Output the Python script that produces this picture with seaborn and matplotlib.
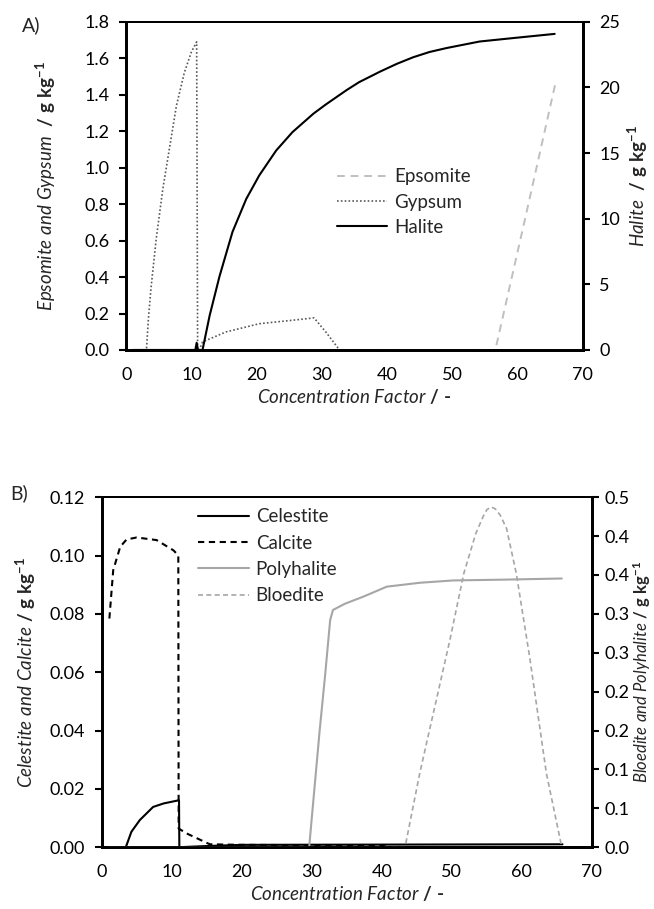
import numpy as np
import pandas as pd
import matplotlib
matplotlib.use('Agg')
import matplotlib.pyplot as plt
import seaborn as sns

# ---- panel A data (concentration factor vs mineral mass, g/kg) ----
epsomite_x = [1, 56.6, 61.1, 65.8]
epsomite_y = [0, 0, 0.71, 1.46]

gypsum_x = [1, 3.1, 3.4, 3.8, 4.6, 5.6, 6.6, 7.7, 8.9, 10.0, 10.8, 10.95, 11.2, 11.7,
            15.3, 20.4, 25.5, 28.8, 30.6, 32.7, 65.8]
gypsum_y = [0, 0, 0.17, 0.34, 0.61, 0.88, 1.10, 1.34, 1.52, 1.635, 1.69, 0, 0, 0.044,
            0.099, 0.144, 0.163, 0.176, 0.099, 0, 0]

halite_x = [1, 10.6, 10.8, 11.0, 11.7, 12.8, 14.3, 16.3, 18.4, 20.4, 23.0, 25.5, 28.7,
            30.6, 33.8, 35.7, 38.9, 41.5, 44.0, 46.5, 49.1, 54.2, 59.3, 65.7]
halite_y = [0, 0, 0.55, 0, 0, 2.64, 5.6, 9.0, 11.5, 13.3, 15.2, 16.6, 18.0,
            18.7, 19.8, 20.4, 21.2, 21.8, 22.3, 22.7, 23.0, 23.5, 23.76, 24.08]

# ---- panel B data ----
celestite_x = [1, 3.4, 4.2, 5.4, 7.3, 8.8, 11.0, 11.05, 15, 20, 65.8]
celestite_y = [0, 0, 0.0053, 0.0093, 0.0138, 0.015, 0.0161, 0, 0.0004, 0.0008, 0.0010]

calcite_x = [1.05, 1.6, 2.6, 3.5, 4.95, 7.8, 10.2, 10.9, 10.95, 12.1, 15.4, 20, 30, 40, 41]
calcite_y = [0.0784, 0.095, 0.103, 0.1055, 0.1062, 0.1053, 0.1018, 0.1001, 0.0064,
             0.0047, 0.001, 0.0008, 0.0007, 0.0005, 0]

polyhalite_x = [1, 29.6, 31.1, 31.9, 32.6, 33.0, 34.7, 37.3, 40.7, 45.4, 50.2, 57.3, 65.7]
polyhalite_y = [0, 0, 0.15, 0.223, 0.292, 0.305, 0.313, 0.322, 0.335, 0.340, 0.343,
                0.344, 0.3455]

bloedite_x = [1, 43.3, 45.4, 49.7, 51.7, 53.4, 54.5, 55.0, 55.6, 56.2, 56.9, 57.8, 59.2,
              61.1, 63.5, 65.7]
bloedite_y = [0, 0, 0.095, 0.266, 0.352, 0.403, 0.426, 0.434, 0.4375, 0.435, 0.427,
              0.41, 0.352, 0.245, 0.095, 0]

x_ticks = [0, 10, 20, 30, 40, 50, 60, 70]
a_left_ticks = [0.0, 0.2, 0.4, 0.6, 0.8, 1.0, 1.2, 1.4, 1.6, 1.8]
a_right_ticks = [0, 5, 10, 15, 20, 25]
b_left_ticks = [0.00, 0.02, 0.04, 0.06, 0.08, 0.10, 0.12]
b_right_ticks = [0.0, 0.05, 0.10, 0.15, 0.20, 0.25, 0.30, 0.35, 0.40, 0.45]
b_right_labels = ['0.0', '0.1', '0.1', '0.2', '0.2', '0.3', '0.3', '0.4', '0.4', '0.5']

sns.set_style('white')
plt.rcParams['font.family'] = ['Lato', 'DejaVu Sans']
plt.rcParams['mathtext.fontset'] = 'custom'
plt.rcParams['mathtext.rm'] = 'Lato'
plt.rcParams['mathtext.it'] = 'Lato:italic'
plt.rcParams['mathtext.bf'] = 'Lato:bold'

FS_TICK = 13
FS_LAB = 13.5
FS_LEG = 13.5
fig = plt.figure(figsize=(6.54, 9.09), dpi=100)
axA = fig.add_axes([0.193, 0.615, 0.698, 0.361])
axB = fig.add_axes([0.156, 0.068, 0.749, 0.385])
axA2 = axA.twinx()
axB2 = axB.twinx()


def line(ax, x, y, label, color, lw, ls):
    sns.lineplot(x=x, y=y, ax=ax, color=color, linewidth=lw, linestyle=ls,
                 estimator=None, sort=False, legend=False, label=label)
    return ax.lines[-1]


hA = [
    line(axA, epsomite_x, epsomite_y, 'Epsomite', '#bfbfbf', 1.4, (0, (4, 3))),
    line(axA, gypsum_x, gypsum_y, 'Gypsum', '#595959', 1.2, (0, (1, 1.3))),
    line(axA2, halite_x, halite_y, 'Halite', 'black', 1.5, '-'),
]
hB = [
    line(axB, celestite_x, celestite_y, 'Celestite', 'black', 1.5, '-'),
    line(axB, calcite_x, calcite_y, 'Calcite', 'black', 1.5, (0, (3, 2.2))),
    line(axB2, polyhalite_x, polyhalite_y, 'Polyhalite', '#a6a6a6', 1.5, '-'),
    line(axB2, bloedite_x, bloedite_y, 'Bloedite', '#a6a6a6', 1.2, (0, (3, 2))),
]

for ax in [axA, axB, axA2, axB2]:
    ax.set_xlim(0, 70)
    ax.set_xticks(x_ticks)
    ax.tick_params(axis='both', direction='out', length=5, width=1.5, pad=7,
                   labelsize=FS_TICK, colors='black')
    for s in ['left', 'right', 'bottom']:
        ax.spines[s].set_linewidth(2.0)
        ax.spines[s].set_color('black')
    ax.spines['top'].set_linewidth(1.4)
    ax.spines['top'].set_color('black')
    ax.grid(False)
axB2.tick_params(axis='y', pad=4)

axA.set_ylim(0, 1.8)
axA.set_yticks(a_left_ticks)
axA.set_yticklabels([f'{v:.1f}' for v in a_left_ticks])
axA2.set_ylim(0, 25)
axA2.set_yticks(a_right_ticks)
axB.set_ylim(0, 0.12)
axB.set_yticks(b_left_ticks)
axB.set_yticklabels([f'{v:.2f}' for v in b_left_ticks])
axB2.set_ylim(0, 0.45)
axB2.set_yticks(b_right_ticks)
axB2.set_yticklabels(b_right_labels)

xlab = '$\\mathit{Concentration\\ Factor}\\ \\mathbf{/\\ \u2010}$'
axA.set_xlabel(xlab, fontsize=FS_LAB, labelpad=3)
axB.set_xlabel(xlab, fontsize=FS_LAB, labelpad=3)
axA.set_ylabel(r'$\mathit{Epsomite\ and\ Gypsum}\ \ \mathbf{/\ g\ kg^{-1}}$', fontsize=FS_LAB)
axA2.set_ylabel(r'$\mathit{Halite}\ \ \mathbf{/\ g\ kg^{-1}}$', fontsize=FS_LAB)
axB.set_ylabel(r'$\mathit{Celestite\ and\ Calcite}\ \mathbf{/\ g\ kg^{-1}}$', fontsize=FS_LAB)
axB2.set_ylabel(r'$\mathit{Bloedite\ and\ Polyhalite}\ \mathbf{/\ g\ kg^{-1}}$', fontsize=12)
axA.yaxis.set_label_coords(-0.15, 0.5)
axA2.yaxis.set_label_coords(1.094, 0.5)
axB.yaxis.set_label_coords(-0.13, 0.5)
axB2.yaxis.set_label_coords(1.08, 0.5)

fig.legend(handles=hA, labels=[h.get_label() for h in hA], loc='upper left',
           bbox_to_anchor=(0.515, 0.815), bbox_transform=fig.transFigure,
           frameon=False, fontsize=FS_LEG, handlelength=2.7, handletextpad=0.37,
           labelspacing=0.45, borderpad=0, borderaxespad=0)
fig.legend(handles=hB, labels=[h.get_label() for h in hB], loc='upper left',
           bbox_to_anchor=(0.303, 0.441), bbox_transform=fig.transFigure,
           frameon=False, fontsize=FS_LEG, handlelength=2.7, handletextpad=0.37,
           labelspacing=0.5, borderpad=0, borderaxespad=0)

fig.text(22 / 654, 1 - 25 / 909, 'A)', fontsize=14, va='center', ha='left')
fig.text(10 / 654, 1 - 493 / 909, 'B)', fontsize=14, va='center', ha='left')

fig.savefig('out.png', dpi=100)
